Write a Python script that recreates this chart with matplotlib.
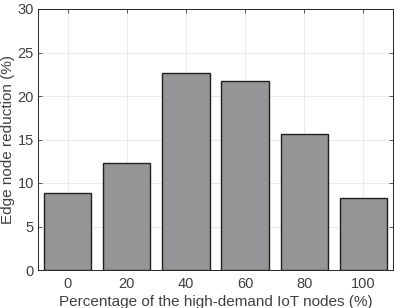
import matplotlib
matplotlib.use("Agg")
import matplotlib.pyplot as plt

# --- DATA ---
categories = ["0", "20", "40", "60", "80", "100"]
reduction = [8.9, 12.3, 22.6, 21.7, 15.6, 8.3]
yticks = [0, 5, 10, 15, 20, 25, 30]

plt.rcParams['font.family'] = ['Liberation Sans', 'DejaVu Sans']
text_col = '#404040'

fig = plt.figure(figsize=(3.94, 3.08), dpi=100)
ax = fig.add_axes([38 / 394, 38 / 308, 355 / 394, 261 / 308])

x = range(len(categories))
ax.bar(x, reduction, width=0.8, color='#959597', edgecolor='#202020', linewidth=1.0, zorder=3)

ax.set_xlim(-0.5, 5.5)
ax.set_ylim(0, 30)
ax.set_xticks(list(x))
ax.set_xticklabels(categories)
ax.set_yticks(yticks)

ax.grid(True, color='#e8e8e8', linewidth=0.6, zorder=0)
ax.tick_params(direction='in', top=True, right=True, labelsize=10.5, colors=text_col,
               length=3, width=0.6, labelcolor=text_col)
ax.tick_params(axis='x', pad=5)
ax.tick_params(axis='y', pad=3)
for s in ax.spines.values():
    s.set_color('#262626')
    s.set_linewidth(0.7)

ax.set_ylabel("Edge node reduction (%)", fontsize=11, color=text_col, labelpad=2)
ax.set_xlabel("Percentage of the high-demand IoT nodes (%)", fontsize=11, color=text_col, labelpad=3)

fig.savefig("out.png", dpi=100)
